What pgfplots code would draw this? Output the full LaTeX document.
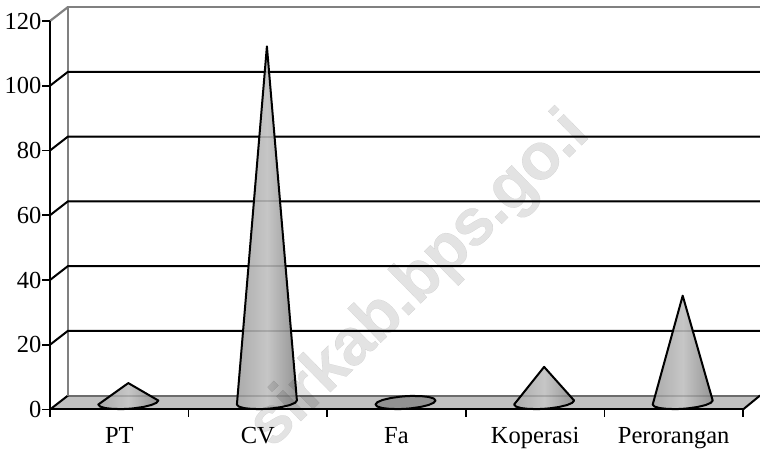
\documentclass[border=0pt]{standalone}
\usepackage{fontspec}
\setmainfont{Liberation Serif}
\newfontfamily\wmfont[LetterSpace=-2,FakeBold=0.3]{Liberation Sans Bold}
\usepackage{pgfplots}
\usepackage{pgfplotstable}
\pgfplotsset{compat=1.18}
% outline of a cone relative to the centre of its base: dx in categories, dy in value units, h=1 marks the apex
\pgfplotstableread{
dx dy h
0 0 1
0.2165 0.618 0
0.2034 -0.085 0
0.1658 -0.778 0
0.1082 -1.376 0
0.0376 -1.809 0
0 -1.946 0
-0.0376 -2.023 0
-0.1082 -1.994 0
-0.1658 -1.724 0
-0.2034 -1.247 0
-0.2165 -0.618 0
}\coneoutline
\definecolor{wallgray}{HTML}{808080}
\definecolor{floorgray}{HTML}{C0C0C0}
\definecolor{coneL}{HTML}{ABABAB}
\definecolor{coneM}{HTML}{C6C6C6}
\definecolor{coneR}{HTML}{949494}
\tikzset{conestyle/.style={draw=black,line width=2pt,line join=round,left color=coneL,right color=coneR,middle color=coneM}}
\newcommand{\cone}[2]{\addplot[conestyle] table[x expr={#1+0.565+\thisrow{dx}},y expr={2.16+\thisrow{dy}+#2*\thisrow{h}}] {\coneoutline} -- cycle;}
\begin{document}
\begin{tikzpicture}[x=1pt,y=1pt]
\useasboundingbox (-50,-42.5) rectangle (710,409.5);
\begin{axis}[
  at={(0,0)},anchor=south west,
  scale only axis,width=693pt,height=388.5pt,
  xmin=0,xmax=5,ymin=0,ymax=120,
  clip=false,axis on top=true,
  axis x line*=bottom,axis y line*=left,
  axis line style={line width=2pt,black,-},
  tick style={line width=1.8pt,black},
  tick align=outside,major tick length=7.5pt,
  xtick={0,1,2,3,4,5},
  xticklabels={PT,CV,Fa,Koperasi,Perorangan},
  x tick label as interval=true,
  ytick={0,20,40,60,80,100,120},
  tick label style={font=\fontsize{24.5}{28}\selectfont},
  yticklabel style={/pgf/number format/assume math mode=true,inner xsep=1pt},
  xticklabel style={inner ysep=2pt,yshift=-8pt,text height=16pt,text depth=5pt},
]
% floor
\addplot[fill=floorgray,draw=none] coordinates {(0,0) (5,0) (5.123,4.32) (0.13,4.32)} -- cycle;
\addplot[wallgray,line width=2pt] coordinates {(0.13,4.32) (5.123,4.32)};
\addplot[black,line width=2pt] coordinates {(5,0) (5.123,4.32)};
\addplot[black,line width=2pt] coordinates {(0,0) (0.13,4.32)};
% walls
\addplot[wallgray,line width=2.2pt] coordinates {(0.13,4.32) (0.13,124.32) (5.123,124.32)};
\addplot[wallgray,line width=2.2pt] coordinates {(0,120) (0.13,124.32)};
% grid lines
\addplot[black,line width=2pt] coordinates {(0,20) (0.13,24.32) (5.123,24.32)};
\addplot[black,line width=2pt] coordinates {(0,40) (0.13,44.32) (5.123,44.32)};
\addplot[black,line width=2pt] coordinates {(0,60) (0.13,64.32) (5.123,64.32)};
\addplot[black,line width=2pt] coordinates {(0,80) (0.13,84.32) (5.123,84.32)};
\addplot[black,line width=2pt] coordinates {(0,100) (0.13,104.32) (5.123,104.32)};
% cones
\cone{0}{6}
\cone{1}{110}
\addplot[draw=black,line width=2pt,fill=black!43,line join=round] coordinates {
(2.7815,2.778)(2.7684,3.407)(2.7308,3.884)(2.6732,4.154)(2.6026,4.183)(2.565,4.106)(2.5274,3.969)(2.4568,3.536)(2.3992,2.938)(2.3616,2.245)(2.3485,1.542)
(2.3616,0.913)(2.3992,0.436)(2.4568,0.166)(2.5274,0.137)(2.565,0.214)(2.6026,0.351)(2.6732,0.784)(2.7308,1.382)(2.7684,2.075)
} -- cycle;
\cone{3}{11}
\cone{4}{33}
% back-wall grid lines showing faintly through the cones
\addplot[black,opacity=0.15,line width=2pt] coordinates {(0.13,24.32) (5.123,24.32)};
\addplot[black,opacity=0.15,line width=2pt] coordinates {(0.13,44.32) (5.123,44.32)};
\addplot[black,opacity=0.15,line width=2pt] coordinates {(0.13,64.32) (5.123,64.32)};
\addplot[black,opacity=0.15,line width=2pt] coordinates {(0.13,84.32) (5.123,84.32)};
\addplot[black,opacity=0.15,line width=2pt] coordinates {(0.13,104.32) (5.123,104.32)};
\addplot[black,opacity=0.15,line width=2pt] coordinates {(0.13,4.32) (5.123,4.32)};
\end{axis}
\node[rotate=44.5,text=black,text opacity=0.11,font={\wmfont\fontsize{66}{70}\selectfont},inner sep=0pt] at (370,129) {sirkab.bps.go.i};
\end{tikzpicture}
\end{document}
